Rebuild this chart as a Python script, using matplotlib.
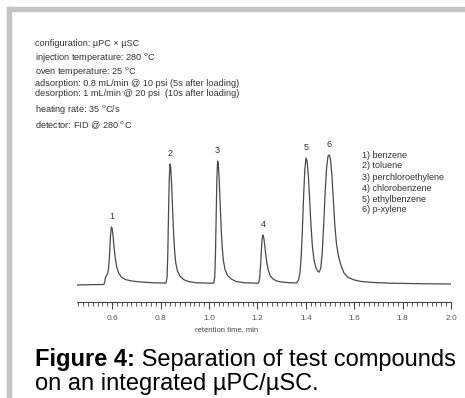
import matplotlib
matplotlib.use("Agg")
import matplotlib.pyplot as plt
from matplotlib.patches import Rectangle
from matplotlib.ticker import MultipleLocator, FormatStrFormatter

plt.rcParams['font.family'] = ['Liberation Sans', 'DejaVu Sans']

# chromatogram trace (retention time in min, detector signal in a.u.)
time_min = [0.455, 0.500, 0.565, 0.569, 0.573, 0.577, 0.581, 0.585, 0.589, 0.593,
            0.597, 0.600, 0.604, 0.608, 0.613, 0.619, 0.627, 0.638, 0.655, 0.680,
            0.720, 0.770, 0.823, 0.827, 0.830, 0.833, 0.836, 0.839, 0.842, 0.846,
            0.850, 0.854, 0.858, 0.863, 0.870, 0.880, 0.895, 0.915, 0.945, 1.000,
            1.020, 1.024, 1.027, 1.030, 1.033, 1.036, 1.039, 1.043, 1.047, 1.051,
            1.055, 1.060, 1.067, 1.077, 1.092, 1.112, 1.145, 1.200, 1.205, 1.209,
            1.213, 1.217, 1.220, 1.223, 1.226, 1.230, 1.235, 1.240, 1.246, 1.254,
            1.265, 1.280, 1.300, 1.330, 1.362, 1.370, 1.376, 1.381, 1.386, 1.391,
            1.396, 1.401, 1.406, 1.411, 1.416, 1.421, 1.427, 1.434, 1.442, 1.450,
            1.456, 1.462, 1.468, 1.474, 1.480, 1.486, 1.492, 1.497, 1.502, 1.508,
            1.514, 1.520, 1.527, 1.535, 1.545, 1.558, 1.575, 1.600, 1.630, 1.680,
            1.750, 1.900, 2.000]
signal = [0.0, 0.3, 0.5, 2, 8, 9.5, 11, 16, 28, 48,
          58, 57, 49, 38, 27, 18, 12, 8, 5.5, 4,
          3, 2.2, 2, 8, 30, 70, 105, 121, 118, 100,
          75, 52, 35, 22, 14, 9, 5.5, 3.5, 2.3, 1.8,
          2, 8, 30, 70, 108, 124, 121, 102, 77, 54,
          37, 24, 15, 9.5, 6, 3.5, 2.3, 1.8, 2, 6,
          18, 36, 47, 50, 48, 41, 30, 21, 14, 9,
          6, 4, 3, 2.3, 2, 5, 12, 28, 55, 88,
          115, 127, 123, 108, 86, 62, 40, 25, 17, 13.5,
          13, 17, 32, 60, 92, 117, 129, 130, 126, 110,
          85, 60, 41, 29, 20, 12, 7.5, 5, 3.5, 2.5,
          1.8, 1.2, 1.0]

peak_ids = ['1', '2', '3', '4', '5', '6']
peak_time = [0.598, 0.839, 1.036, 1.223, 1.401, 1.497]
peak_height = [58, 121, 124, 50, 127, 130]
compounds = ['benzene', 'toluene', 'perchloroethylene', 'chlorobenzene',
             'ethylbenzene', 'p-xylene']

conditions = [
    'configuration: \u00b5PC \u00d7 \u00b5SC',
    'injection temperature: 280 $^{\\mathrm{o}}$C',
    'oven temperature: 25 $^{\\mathrm{o}}$C',
    'adsorption: 0.8 mL/min @ 10 psi (5s after loading)',
    'desorption: 1 mL/min @ 20 psi  (10s after loading)',
    'heating rate: 35 $^{\\mathrm{o}}$C/s',
    'detector: FID @ 280 $^{\\mathrm{o}}$C',
]
condition_y = [43, 57, 72, 84, 94, 110, 125]

W, H = 465, 398
fig = plt.figure(figsize=(W / 100, H / 100), dpi=100)
fig.patch.set_facecolor('white')

# grey frame on the left and top
fig.patches.append(Rectangle((7 / W, 0), 4 / W, 1 - 7 / H, transform=fig.transFigure,
                             color='#c4c4c4', zorder=0))
fig.patches.append(Rectangle((7 / W, 1 - 11 / H), 1 - 7 / W, 4 / H, transform=fig.transFigure,
                             color='#c4c4c4', zorder=0))

ax = fig.add_axes([77 / W, (H - 302) / H, 374 / W, 182 / H])
ax.plot(time_min, signal, color='#4a4a4a', lw=0.9)
ax.set_xlim(0.455, 2.0)
ax.set_ylim(-17, 165)

for pid, t, h in zip(peak_ids, peak_time, peak_height):
    ax.annotate(pid, (t, h), xytext=(0, 4), textcoords='offset points',
                ha='center', va='bottom', fontsize=6.5, color='#333333')

for spine in ['left', 'right', 'top']:
    ax.spines[spine].set_visible(False)
ax.spines['bottom'].set_color('#444444')
ax.spines['bottom'].set_linewidth(0.8)
ax.set_yticks([])
ax.xaxis.set_major_locator(MultipleLocator(0.2))
ax.xaxis.set_minor_locator(MultipleLocator(0.02))
ax.xaxis.set_major_formatter(FormatStrFormatter('%.1f'))
ax.tick_params(axis='x', which='major', length=5, width=0.8, color='#444444',
               labelsize=6, labelcolor='#555555', pad=4)
ax.tick_params(axis='x', which='minor', length=3, width=0.6, color='#444444')
ax.patch.set_alpha(0)

fig.text(227 / W, 1 - 330 / H, 'retention time, min', ha='center', va='center',
         fontsize=5.5, color='#444444')

for line, y in zip(conditions, condition_y):
    fig.text(35 / W, 1 - y / H, line, ha='left', va='center', fontsize=6.6,
             color='#333333')

for i, name in enumerate(compounds):
    fig.text(362 / W, 1 - (155 + 11 * i) / H, f'{i + 1}) {name}', ha='left',
             va='center', fontsize=6.5, color='#333333')

# caption
cap = fig.text(35 / W, 1 - 366 / H, 'Figure 4:', ha='left', va='baseline',
               fontsize=17, fontweight='bold', color='black')
fig.canvas.draw()
bb = cap.get_window_extent(fig.canvas.get_renderer())
fig.text(bb.x1 / W, 1 - 366 / H, ' Separation of test compounds', ha='left',
         va='baseline', fontsize=17, color='black')
fig.text(35 / W, 1 - 390 / H, 'on an integrated \u00b5PC/\u00b5SC.', ha='left',
         va='baseline', fontsize=17, color='black')

plt.savefig('out.png', dpi=100)
